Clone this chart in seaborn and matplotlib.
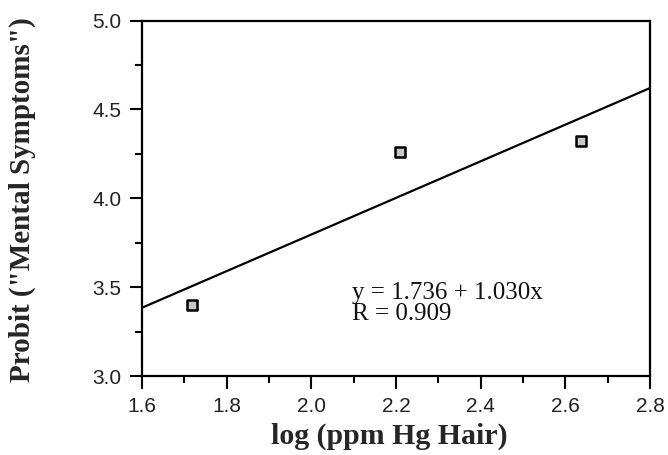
import matplotlib
matplotlib.use("Agg")
import matplotlib.pyplot as plt
import seaborn as sns
import numpy as np
import pandas as pd
from matplotlib.ticker import MultipleLocator

# Data
log_hg = [1.718, 2.210, 2.637]
probit = [3.40, 4.26, 4.32]
intercept = 1.736
slope = 1.030
r_value = 0.909
x_range = [1.6, 2.8]
x_ticks = [1.6, 1.8, 2.0, 2.2, 2.4, 2.6, 2.8]
y_ticks = [3.0, 3.5, 4.0, 4.5, 5.0]

sns.set_theme(style="white")
plt.rcParams['font.family'] = ['Liberation Sans', 'DejaVu Sans']

fig = plt.figure(figsize=(6.68, 4.55), dpi=100)
ax = fig.add_axes([142/668, 1 - 376/455, (650-142)/668, (376-20.5)/455])

pts = pd.DataFrame({"x": log_hg, "y": probit})
line_x = np.array(x_range)
line = pd.DataFrame({"x": line_x, "y": intercept + slope * line_x})

sns.lineplot(data=line, x="x", y="y", ax=ax, color="black", linewidth=1.6)
sns.scatterplot(data=pts, x="x", y="y", ax=ax, marker="s", s=50,
                facecolor="#c8c8c8", edgecolor="black", linewidth=1.8, zorder=5)

ax.set_xlim(x_range)
ax.set_ylim(3.0, 5.0)
ax.set_xticks(x_ticks)
ax.set_yticks(y_ticks)
ax.set_xticklabels([f"{v:.1f}" for v in x_ticks])
ax.set_yticklabels([f"{v:.1f}" for v in y_ticks])
ax.xaxis.set_minor_locator(MultipleLocator(0.1))
ax.yaxis.set_minor_locator(MultipleLocator(0.25))
ax.tick_params(which="major", direction="out", length=9, width=1.5, color="black",
               labelsize=15, labelcolor="#222222", bottom=True, left=True, pad=6)
ax.tick_params(which="minor", direction="out", length=5, width=1.5, color="black",
               bottom=True, left=True)
for s in ax.spines.values():
    s.set_color("black")
    s.set_linewidth(1.6)

serif = ['Liberation Serif', 'DejaVu Serif']
ax.set_xlabel("log (ppm Hg Hair)", family=serif, fontweight="bold", fontsize=21.5)
ax.set_ylabel('Probit ("Mental Symptoms")', family=serif, fontweight="bold", fontsize=21)
ax.xaxis.set_label_coords(0.486, -0.132)
ax.xaxis.label.set_verticalalignment('top')
ax.yaxis.set_label_coords(-0.2356, 0.4965)
ax.yaxis.label.set_verticalalignment('center')

ax.text(2.097, 3.433, f"y = {intercept:.3f} + {slope:.3f}x",
        family=serif, fontsize=18, color="#111111", va="baseline", ha="left")
ax.text(2.097, 3.315, f"R = {r_value:.3f}",
        family=serif, fontsize=18, color="#111111", va="baseline", ha="left")

fig.savefig("out.png", dpi=100)
